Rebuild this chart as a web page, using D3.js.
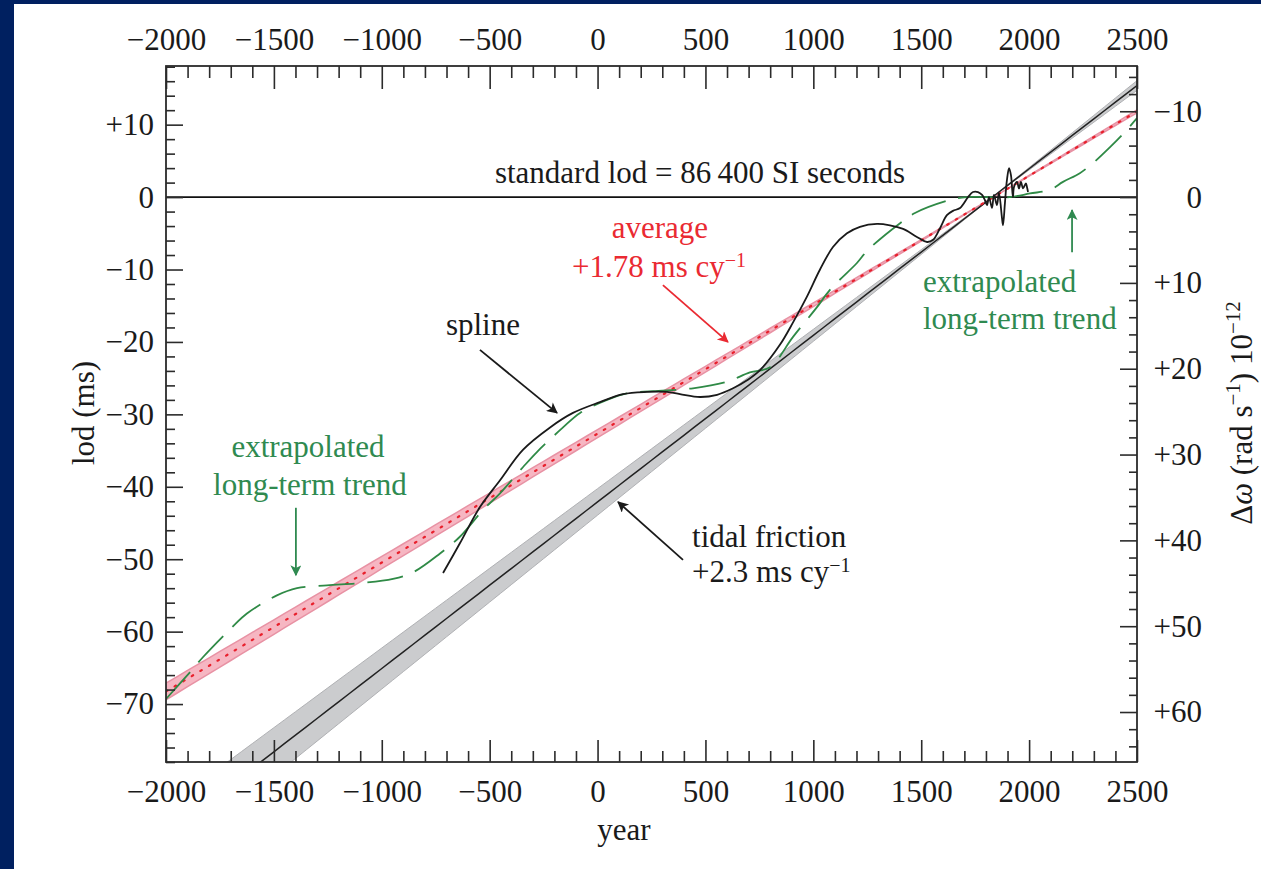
<!DOCTYPE html>
<html><head><meta charset="utf-8">
<script src="https://cdn.jsdelivr.net/npm/d3@7"></script>
<style>
html,body{margin:0;padding:0;background:#002060;}
svg{display:block;}
text{font-family:"Liberation Serif","Times New Roman",serif;}
</style></head>
<body>
<svg id="c" width="1261" height="869"></svg>
<script>
// ---------- data ----------
const xMajorTicks = [-2000,-1500,-1000,-500,0,500,1000,1500,2000,2500];
const lodMajorTicks = [-70,-60,-50,-40,-30,-20,-10,0,10];
const dwMajorTicks = [-10,0,10,20,30,40,50,60];

const tidalRate = 2.3, tidalErr = 0.1, tidalEpoch = 1830;
const avgRate = 1.78, avgErr = 0.03, avgEpoch = 1835;

const splineYears = [-716,-638,-545,-452,-346,-220,-114,11,118,229,322,382,475,554,628,693,753,845,906,971,1031,1091,1156,1216,1295,1355,1416,1480,1527,1555,1587,1619,1647,1680,1717,1740,1763,1782,1795,1805,1814,1828,1837,1851,1860,1874,1879,1888,1897,1907,1916,1925,1930,1944,1953,1962,1972,1985,1990,1995];
const splineLod = [-51.9,-47.8,-42.8,-39.1,-34.9,-31.8,-29.8,-28.3,-27.2,-26.9,-26.9,-27.2,-27.6,-27.3,-26.4,-25.3,-23.9,-20.4,-17.3,-13.7,-10.0,-6.9,-5.0,-4.1,-3.7,-3.9,-4.4,-5.5,-6.2,-5.9,-4.3,-2.5,-1.9,-1.5,0.0,0.7,0.7,0.3,-0.4,-1.1,0.0,-1.5,0.3,-1.1,0.6,-2.8,-3.9,-0.8,2.3,4.0,3.0,0.0,1.4,2.1,1.2,2.1,1.2,1.9,1.4,0.7];

const trendYears = [-2000,-1880,-1828,-1694,-1625,-1486,-1393,-1254,-1101,-948,-855,-730,-638,-531,-452,-346,-281,-160,-81,44,136,257,442,600,706,799,906,1017,1077,1202,1253,1402,1471,1633,1712,1911,2004,2097,2157,2235,2300,2375,2444,2500];
const trendLod = [-69.3,-65.3,-63.5,-59.4,-57.5,-55.0,-54.0,-53.6,-53.3,-52.7,-51.8,-49.2,-46.9,-43.2,-40.9,-37.3,-35.2,-31.8,-29.8,-28.0,-27.1,-26.8,-26.4,-25.5,-24.2,-23.5,-19.3,-15.2,-12.8,-9.1,-7.3,-3.6,-2.2,-0.4,0.0,0.0,0.5,1.0,2.1,3.3,4.8,6.9,9.0,10.9];

// ---------- layout ----------
const L = 166, R = 1137, T = 66, B = 762;
const FS = 31;
const K = 0.8439; // 1 ms of lod -> 0.8439e-12 rad/s

const svg = d3.select("#c");
svg.append("rect").attr("x",14).attr("y",4).attr("width",1261-14).attr("height",869-4).attr("fill","#fff");

const x = d3.scaleLinear().domain([-2000,2500]).range([L,R]);
const y = d3.scaleLinear().domain([-78,18.1]).range([B,T]);
const yR = d3.scaleLinear().domain([-K*18.1, K*78]).range([T,B]);

svg.append("clipPath").attr("id","clip").append("rect")
  .attr("x",L).attr("y",T).attr("width",R-L).attr("height",B-T);
const g = svg.append("g").attr("clip-path","url(#clip)");

const bandYears = d3.range(-2000, 2501, 50);
// tidal band
const tidal = (yr, r) => r*(yr - tidalEpoch)/100;
g.append("path").datum(bandYears)
  .attr("d", d3.area().x(d=>x(d))
     .y0(d=>y(tidal(d, d<tidalEpoch ? tidalRate-tidalErr : tidalRate+tidalErr)))
     .y1(d=>y(tidal(d, d<tidalEpoch ? tidalRate+tidalErr : tidalRate-tidalErr))))
  .attr("fill","#cbccce").attr("stroke","#b0b1b4").attr("stroke-width",1);
// average band
const avg = (yr, r) => r*(yr - avgEpoch)/100;
g.append("path").datum(bandYears)
  .attr("d", d3.area().x(d=>x(d))
     .y0(d=>y(avg(d, d<avgEpoch ? avgRate-avgErr : avgRate+avgErr)))
     .y1(d=>y(avg(d, d<avgEpoch ? avgRate+avgErr : avgRate-avgErr))))
  .attr("fill","#f6b6c2").attr("stroke","#e892a4").attr("stroke-width",1.5);
// tidal centre line
g.append("path").datum(bandYears)
  .attr("d", d3.line().x(d=>x(d)).y(d=>y(tidal(d,tidalRate))))
  .attr("fill","none").attr("stroke","#222").attr("stroke-width",1.5);
// zero line
g.append("line").attr("x1",L).attr("x2",R).attr("y1",y(0)).attr("y2",y(0))
  .attr("stroke","#111").attr("stroke-width",1.6);
// average dotted line
g.append("path").datum(bandYears)
  .attr("d", d3.line().x(d=>x(d)).y(d=>y(avg(d,avgRate))))
  .attr("fill","none").attr("stroke","#e8202c").attr("stroke-width",2.2)
  .attr("stroke-dasharray","1.6,8.4").attr("stroke-linecap","round");
// extrapolated trend
const trendPts = trendYears.map((d,i)=>[d,trendLod[i]]);
g.append("path").datum(trendPts)
  .attr("d", d3.line().x(d=>x(d[0])).y(d=>y(d[1])).curve(d3.curveCatmullRom.alpha(0.5)))
  .attr("fill","none").attr("stroke","#2f8a46").attr("stroke-width",1.8)
  .attr("stroke-dasharray","36,13");
// spline
const splinePts = splineYears.map((d,i)=>[d,splineLod[i]]);
g.append("path").datum(splinePts)
  .attr("d", d3.line().x(d=>x(d[0])).y(d=>y(d[1])).curve(d3.curveCatmullRom.alpha(0.5)))
  .attr("fill","none").attr("stroke","#1a1a1a").attr("stroke-width",1.8).attr("stroke-linejoin","round");

// ---------- axes ----------
const axCol = "#2b2b2b";
function styleAxis(sel){
  sel.select(".domain").remove();
  sel.selectAll(".tick line").attr("stroke",axCol).attr("stroke-width",1.6);
  sel.selectAll(".tick text").attr("font-size",FS).attr("fill","#1a1a1a")
     .attr("font-family",'"Liberation Serif","Times New Roman",serif');
}
const fmtX = d => d<0 ? "\u2212"+Math.abs(d) : String(d);
const fmtY = d => d<0 ? "\u2212"+Math.abs(d) : (d>0 ? "+"+d : "0");
const minorX = d3.range(-2000,2501,100).filter(d=>d%500!==0);
const minorL = d3.range(-78,19,2).filter(d=>d%10!==0);
const minorR = d3.range(-14,66,2).filter(d=>d%10!==0);

svg.append("g").attr("transform",`translate(0,${T})`)
  .call(d3.axisTop(x).tickValues(xMajorTicks).tickSize(-23).tickPadding(16).tickFormat(fmtX)).call(styleAxis);
svg.append("g").attr("transform",`translate(0,${T})`)
  .call(d3.axisTop(x).tickValues(minorX).tickSize(-12).tickFormat("")).call(styleAxis);
svg.append("g").attr("transform",`translate(0,${B})`)
  .call(d3.axisBottom(x).tickValues(xMajorTicks).tickSize(-22).tickPadding(18).tickFormat(fmtX)).call(styleAxis);
svg.append("g").attr("transform",`translate(0,${B})`)
  .call(d3.axisBottom(x).tickValues(minorX).tickSize(-11).tickFormat("")).call(styleAxis);
svg.append("g").attr("transform",`translate(${L},0)`)
  .call(d3.axisLeft(y).tickValues(lodMajorTicks).tickSize(-17).tickPadding(12).tickFormat(fmtY)).call(styleAxis);
svg.append("g").attr("transform",`translate(${L},0)`)
  .call(d3.axisLeft(y).tickValues(minorL).tickSize(-9).tickFormat("")).call(styleAxis);
const ra = svg.append("g").attr("transform",`translate(${R},0)`)
  .call(d3.axisRight(yR).tickValues(dwMajorTicks).tickSize(-17).tickFormat(fmtY)).call(styleAxis);
ra.selectAll(".tick text").attr("text-anchor","end").attr("x",65);
svg.append("g").attr("transform",`translate(${R},0)`)
  .call(d3.axisRight(yR).tickValues(minorR).tickSize(-8).tickFormat("")).call(styleAxis);

svg.append("rect").attr("x",L).attr("y",T).attr("width",R-L).attr("height",B-T)
  .attr("fill","none").attr("stroke",axCol).attr("stroke-width",1.8);

// axis titles
svg.append("text").attr("x",624).attr("y",840).attr("text-anchor","middle")
  .attr("font-size",FS).attr("fill","#1a1a1a").text("year");
svg.append("text").attr("transform","translate(94,413) rotate(-90)").attr("text-anchor","middle")
  .attr("font-size",FS).attr("fill","#1a1a1a").text("lod (ms)");
const rt = svg.append("text").attr("transform","translate(1252,413) rotate(-90)").attr("text-anchor","middle")
  .attr("font-size",FS).attr("fill","#1a1a1a");
rt.append("tspan").text("\u0394");
rt.append("tspan").attr("font-style","italic").text("\u03c9");
rt.append("tspan").text(" (rad s");
rt.append("tspan").attr("font-size",21).attr("dy",-12).text("\u22121");
rt.append("tspan").attr("dy",12).text(") 10");
rt.append("tspan").attr("font-size",21).attr("dy",-12).text("\u221212");

// ---------- annotations (data units) ----------
const defs = svg.append("defs");
function marker(id,col){
  defs.append("marker").attr("id",id).attr("viewBox","0 0 10 10").attr("refX",9).attr("refY",5)
    .attr("markerWidth",13).attr("markerHeight",11).attr("markerUnits","userSpaceOnUse").attr("orient","auto")
    .append("path").attr("d","M0,0 L10,5 L0,10 L2.5,5 Z").attr("fill",col);
}
const RED = "#ea2a32", GREEN = "#2f8a50", BLK = "#1a1a1a";
marker("ah-k",BLK); marker("ah-r",RED); marker("ah-g",GREEN);

function label(yr, lod, anchor, col, parts){
  const t = svg.append("text").attr("x",x(yr)).attr("y",y(lod)).attr("text-anchor",anchor)
    .attr("font-size",FS).attr("fill",col);
  parts.forEach(p=>{
    if (typeof p === "string") t.append("tspan").text(p);
    else t.append("tspan").attr("font-size",20).attr("dy",-10).text(p.sup);
  });
}
function arrow(y1,l1,y2,l2,col,id){
  svg.append("line").attr("x1",x(y1)).attr("y1",y(l1)).attr("x2",x(y2)).attr("y2",y(l2))
    .attr("stroke",col).attr("stroke-width",1.8).attr("marker-end",`url(#${id})`);
}
label(475, 1.9, "middle", BLK, ["standard lod = 86\u2009400 SI seconds"]);
label(289, -5.65, "middle", RED, ["average"]);
label(285, -11.0, "middle", RED, ["+1.78 ms cy", {sup:"\u22121"}]);
arrow(303, -12.15, 604, -20.0, RED, "ah-r");
label(-531, -19.0, "middle", BLK, ["spline"]);
arrow(-545, -21.1, -188, -29.8, BLK, "ah-k");
label(438, -48.3, "start", BLK, ["tidal friction"]);
label(438, -53.1, "start", BLK, ["+2.3 ms cy", {sup:"\u22121"}]);
arrow(396, -50.1, 95, -42.1, BLK, "ah-k");
label(-1342, -35.9, "middle", GREEN, ["extrapolated"]);
label(-1333, -41.2, "middle", GREEN, ["long-term trend"]);
arrow(-1398, -42.9, -1398, -52.2, GREEN, "ah-g");
label(1508, -13.1, "start", GREEN, ["extrapolated"]);
label(1508, -18.2, "start", GREEN, ["long-term trend"]);
arrow(2199, -7.6, 2199, -1.8, GREEN, "ah-g");
</script>
</body></html>
